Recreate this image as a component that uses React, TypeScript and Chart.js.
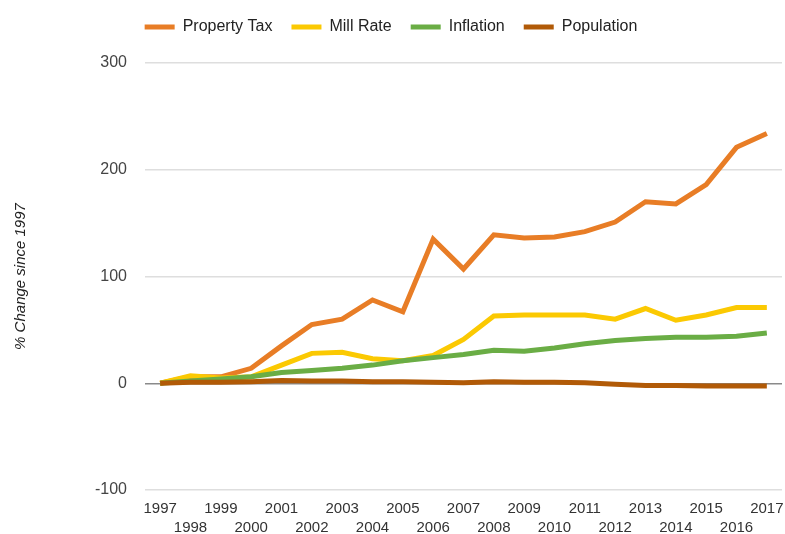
import React, { useEffect, useRef } from "react";
import { Chart, registerables } from "chart.js";

Chart.register(...registerables);

const years = [
  "1997", "1998", "1999", "2000", "2001", "2002", "2003", "2004", "2005", "2006", "2007",
  "2008", "2009", "2010", "2011", "2012", "2013", "2014", "2015", "2016", "2017",
];
const propertyTax = [0, 6, 6, 14, 35, 55, 60, 78, 67, 135, 107, 139, 136, 137, 142, 151, 170, 168, 186, 221, 234];
const millRate = [0, 7, 5, 6, 17, 28, 29, 23, 21, 26, 41, 63, 64, 64, 64, 60, 70, 59, 64, 71, 71];
const inflation = [0, 2, 4, 6, 10, 12, 14, 17, 21, 24, 27, 31, 30, 33, 37, 40, 42, 43, 43, 44, 47];
const population = [0, 1, 1, 1.5, 2.5, 2, 2, 1.5, 1.5, 1, 0.5, 1.5, 1, 1, 0.5, -1, -2, -2, -2.5, -2.5, -2.5];
const seriesNames = ["Property Tax", "Mill Rate", "Inflation", "Population"];
const seriesColors = ["#e87d26", "#fbc902", "#6aad45", "#b15a07"];
const yTicks = [-100, 0, 100, 200, 300];
const yTitle = "% Change since 1997";

const FONT = "'Liberation Sans', Arial, sans-serif";

export default function App() {
  const ref = useRef<HTMLCanvasElement | null>(null);

  useEffect(() => {
    if (!ref.current) return;
    const values = [propertyTax, millRate, inflation, population];
    const legendPad: any = {
      id: "legendPad",
      beforeLayout(chart: any) {
        const lg = chart.legend;
        if (lg && !lg._padded) {
          const orig = lg.fit.bind(lg);
          lg.fit = function () {
            orig();
            this.height += 18;
          };
          lg._padded = true;
        }
      },
    };
    const chart = new Chart(ref.current, {
      type: "line",
      data: {
        labels: years,
        datasets: values.map((v, i) => ({
          label: seriesNames[i],
          data: v,
          borderColor: seriesColors[i],
          backgroundColor: seriesColors[i],
          borderWidth: 5,
          pointRadius: 0,
          tension: 0,
          fill: false,
          order: values.length - i,
        })),
      },
      options: {
        animation: false,
        responsive: true,
        maintainAspectRatio: false,
        layout: { padding: { top: 0, right: 3, left: 0, bottom: 0 } },
        plugins: {
          tooltip: { enabled: false },
          legend: {
            position: "top",
            align: "center",
            labels: {
              boxWidth: 30,
              boxHeight: 5,
              padding: 19,
              color: "#222",
              font: { family: FONT, size: 16 },
              sort: (a: any, b: any) => a.datasetIndex - b.datasetIndex,
              generateLabels: (c: any) =>
                (Chart.defaults.plugins.legend.labels as any)
                  .generateLabels(c)
                  .map((l: any) => ({ ...l, lineWidth: 0 })),
            },
          },
        },
        scales: {
          x: {
            offset: true,
            grid: { display: false, drawTicks: true, tickLength: 9 },
            border: { display: false },
            afterFit: (s: any) => {
              s.height = 44;
            },
            ticks: {
              autoSkip: false,
              maxRotation: 0,
              minRotation: 0,
              padding: 0,
              color: "#333",
              font: { family: FONT, size: 15, lineHeight: 1.27 },
              callback: (_v: any, i: number) => (i % 2 === 0 ? years[i] : ["", years[i]]),
            },
          },
          y: {
            min: yTicks[0],
            max: yTicks[yTicks.length - 1],
            afterFit: (s: any) => {
              s.width = 145;
            },
            afterBuildTicks: (s: any) => {
              s.ticks = yTicks.map((v) => ({ value: v }));
            },
            grid: {
              drawTicks: false,
              lineWidth: 1.5,
              color: (ctx: any) => (ctx.tick && ctx.tick.value === 0 ? "#8a8a8a" : "#dedede"),
            },
            border: { display: false },
            ticks: {
              padding: 18,
              color: "#444",
              font: { family: FONT, size: 16 },
            },
            title: {
              display: true,
              text: yTitle,
              color: "#222",
              padding: { top: 12, bottom: 0 },
              font: { family: FONT, size: 15, style: "italic" },
            },
          },
        },
      },
      plugins: [legendPad],
    });
    return () => chart.destroy();
  }, []);

  return (
    <div style={{ position: "fixed", left: 0, top: 0, width: 785, height: 534, background: "#fff" }}>
      <canvas ref={ref} />
    </div>
  );
}
